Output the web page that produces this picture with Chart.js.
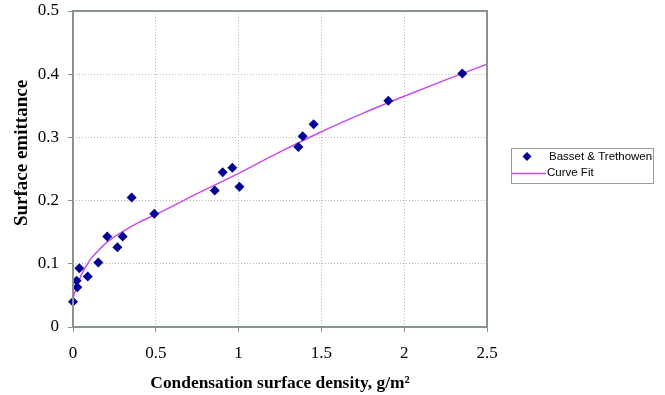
<!DOCTYPE html>
<html>
<head>
<meta charset="utf-8">
<script src="https://cdn.jsdelivr.net/npm/chart.js@4"></script>
<style>
  html, body { margin: 0; padding: 0; background: #ffffff; }
  #wrap { width: 665px; height: 395px; }
</style>
</head>
<body>
<div id="wrap"><canvas id="chart" width="665" height="395"></canvas></div>
<script>
// ───────────────────────── DATA ─────────────────────────
const measuredX = [0.000, 0.026, 0.022, 0.038, 0.089, 0.153, 0.207, 0.268, 0.300, 0.354, 0.491,
                   0.856, 0.904, 0.962, 1.005, 1.361, 1.387, 1.453, 1.904, 2.351];
const measuredY = [0.040, 0.063, 0.073, 0.093, 0.080, 0.102, 0.143, 0.126, 0.143, 0.205, 0.179,
                   0.216, 0.245, 0.252, 0.222, 0.285, 0.302, 0.321, 0.358, 0.401];

const fitX = [0, 0.02, 0.05, 0.1, 0.15, 0.2, 0.3, 0.4, 0.5, 0.75, 1.0, 1.25, 1.5, 1.75, 2.0, 2.25, 2.5];
const fitY = [0.045, 0.062, 0.082, 0.105, 0.120, 0.133, 0.151, 0.166, 0.178, 0.211, 0.243, 0.277,
              0.309, 0.338, 0.365, 0.391, 0.416];

const xTicks = [0, 0.5, 1, 1.5, 2, 2.5];
const yTicks = [0, 0.1, 0.2, 0.3, 0.4, 0.5];

const seriesNames = ["Basset & Trethowen", "Curve Fit"];
const yTitle = "Surface emittance";
const xTitle = "Condensation surface density, g/m²";

// ───────────────────────── STYLE ─────────────────────────
const markerColor = "#000099";
const curveColor  = "#c44df0";
const frameColor  = "#87948f";
const gridColor   = "#b8b8b8";
const serif       = "'Liberation Serif', 'Times New Roman', serif";

// ───────────────────────── PLUGINS ─────────────────────────
const frame = {
    id: "frame",
    afterDraw(chart) {
        const { ctx, chartArea: a } = chart;
        ctx.save();
        ctx.strokeStyle = frameColor;
        ctx.lineWidth = 2;
        ctx.strokeRect(a.left, a.top, a.right - a.left, a.bottom - a.top);
        ctx.restore();
    }
};

// y title sits a bit above the axis middle in the original, so draw it by hand
const sideTitle = {
    id: "sideTitle",
    afterDraw(chart) {
        const ctx = chart.ctx;
        ctx.save();
        ctx.translate(22, 153);
        ctx.rotate(-Math.PI / 2);
        ctx.fillStyle = "#000000";
        ctx.font = "bold 19px " + serif;
        ctx.textAlign = "center";
        ctx.textBaseline = "middle";
        ctx.fillText(yTitle, 0, 0);
        ctx.restore();
    }
};

const boxLegend = {
    id: "boxLegend",
    afterDraw(chart) {
        const ctx = chart.ctx;
        const ds = chart.data.datasets;
        ctx.save();
        ctx.strokeStyle = "#9a9a9a";
        ctx.lineWidth = 1;
        ctx.strokeRect(511.5, 148.5, 142, 35);

        // marker entry
        ctx.fillStyle = ds[0].backgroundColor;
        ctx.beginPath();
        ctx.moveTo(527, 152); ctx.lineTo(531.5, 156.5); ctx.lineTo(527, 161); ctx.lineTo(522.5, 156.5);
        ctx.closePath();
        ctx.fill();

        // line entry
        ctx.strokeStyle = ds[1].borderColor;
        ctx.lineWidth = 1.5;
        ctx.beginPath();
        ctx.moveTo(512, 173.5); ctx.lineTo(546, 173.5);
        ctx.stroke();

        ctx.fillStyle = "#000000";
        ctx.font = "11.5px 'Liberation Sans', Arial, sans-serif";
        ctx.textBaseline = "middle";
        ctx.fillText(ds[0].label, 549, 157);
        ctx.fillText(ds[1].label, 547, 173);
        ctx.restore();
    }
};

// ───────────────────────── CHART ─────────────────────────
const ctx = document.getElementById("chart").getContext("2d");
new Chart(ctx, {
    type: "scatter",
    data: {
        datasets: [{
            label: seriesNames[0],
            data: measuredX.map((x, i) => ({ x, y: measuredY[i] })),
            backgroundColor: markerColor,
            borderColor: markerColor,
            pointStyle: "rectRot",
            pointRadius: 5,
            pointBorderWidth: 0,
            showLine: false,
            clip: false,
            order: 1
        }, {
            label: seriesNames[1],
            data: fitX.map((x, i) => ({ x, y: fitY[i] })),
            borderColor: curveColor,
            backgroundColor: curveColor,
            borderWidth: 1.5,
            pointRadius: 0,
            showLine: true,
            cubicInterpolationMode: "monotone",
            order: 2
        }]
    },
    options: {
        responsive: false,
        animation: false,
        layout: { padding: { top: 11, right: 178, left: 0, bottom: 0 } },
        plugins: {
            legend: { display: false },
            tooltip: { enabled: false }
        },
        scales: {
            x: {
                type: "linear",
                min: 0, max: 2.5,
                afterFit: s => { s.height = 68; s.paddingLeft = 0; s.paddingRight = 0; },
                afterBuildTicks: s => { s.ticks = xTicks.map(v => ({ value: v })); },
                ticks: {
                    color: "#000000",
                    font: { family: serif, size: 17 },
                    padding: 11,
                    callback: v => String(v)
                },
                grid: { color: gridColor, tickColor: frameColor, tickLength: 5, lineWidth: 1 },
                border: { display: false, dash: [1, 2] },
                title: {
                    display: true,
                    text: xTitle,
                    color: "#000000",
                    font: { family: serif, size: 17.4, weight: "bold" },
                    padding: { top: 0, bottom: 1 }
                }
            },
            y: {
                type: "linear",
                min: 0, max: 0.5,
                afterFit: s => { s.width = 73; s.paddingTop = 0; s.paddingBottom = 0; },
                afterBuildTicks: s => { s.ticks = yTicks.map(v => ({ value: v })); },
                ticks: {
                    color: "#000000",
                    font: { family: serif, size: 17 },
                    padding: 9,
                    callback: v => String(v)
                },
                grid: { color: gridColor, tickColor: frameColor, tickLength: 5, lineWidth: 1 },
                border: { display: false, dash: [1, 2] },
                title: { display: false }
            }
        }
    },
    plugins: [frame, sideTitle, boxLegend]
});
</script>
</body>
</html>
